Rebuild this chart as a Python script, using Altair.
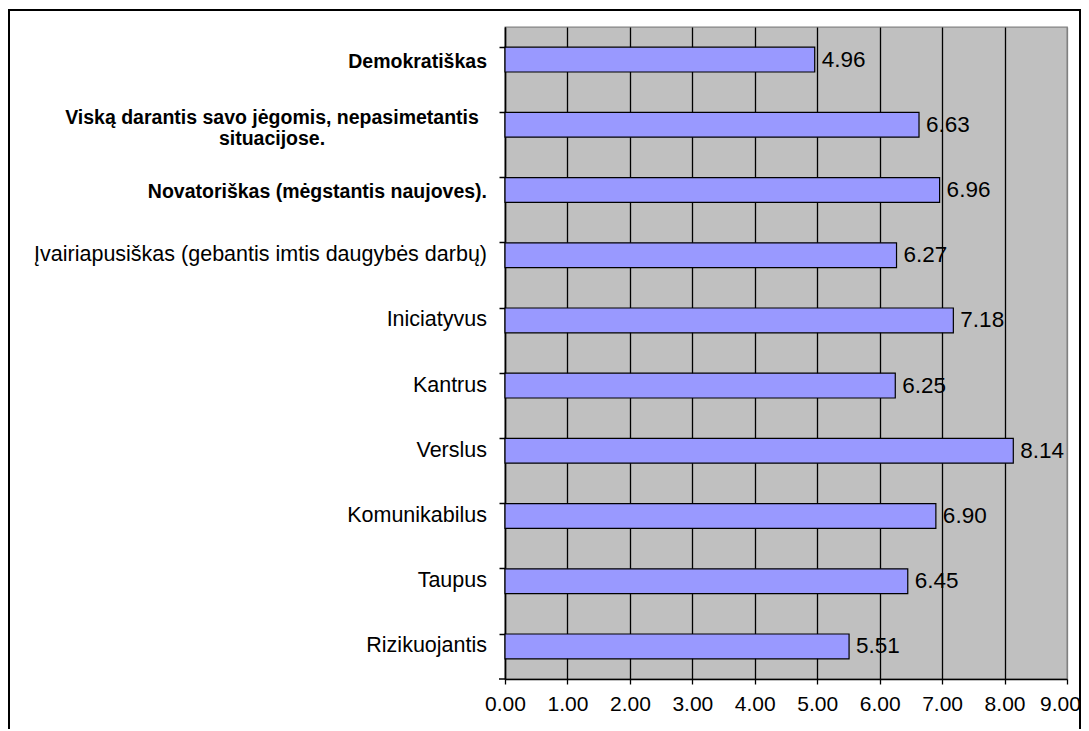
import altair as alt
import pandas as pd

categories = [
    "Demokratiškas",
    "Viską darantis savo jėgomis, nepasimetantis situacijose.",
    "Novatoriškas (mėgstantis naujoves).",
    "Įvairiapusiškas (gebantis imtis daugybės darbų)",
    "Iniciatyvus",
    "Kantrus",
    "Verslus",
    "Komunikabilus",
    "Taupus",
    "Rizikuojantis",
]
display_labels = [
    "Demokratiškas",
    "Viską darantis savo jėgomis, nepasimetantis\nsituacijose.",
    "Novatoriškas (mėgstantis naujoves).",
    "Įvairiapusiškas (gebantis imtis daugybės darbų)",
    "Iniciatyvus",
    "Kantrus",
    "Verslus",
    "Komunikabilus",
    "Taupus",
    "Rizikuojantis",
]
values = [4.96, 6.63, 6.96, 6.27, 7.18, 6.25, 8.14, 6.90, 6.45, 5.51]
styles = ["bold", "wrap", "bold", "normal", "normal", "normal", "normal", "normal", "normal", "normal"]
x_ticks = [0, 1, 2, 3, 4, 5, 6, 7, 8, 9]

df = pd.DataFrame({"cat": categories, "display": display_labels, "value": values, "style": styles})

FONT = "Liberation Sans"
W, H = 562, 652

y_enc = alt.Y(
    "cat:N", sort=categories, title=None,
    scale=alt.Scale(paddingInner=0.62, paddingOuter=0.31),
    axis=alt.Axis(labels=False, bandPosition=0, tickSize=6, tickColor="black", tickWidth=1.5,
                  domainColor="black", domainWidth=1.5, grid=False),
)
x_enc = alt.X(
    "value:Q", title=None,
    scale=alt.Scale(domain=[0, 9], nice=False),
    axis=alt.Axis(values=x_ticks, format=".2f", grid=True,
                  gridColor={"condition": {"test": "datum.value === 9", "value": "#808080"}, "value": "black"},
                  labelOffset={"condition": {"test": "datum.value === 9", "value": -7}, "value": 0},
                  gridWidth=1.3, tickSize=5, tickColor="black", tickWidth=1.3,
                  domainColor="black", domainWidth=1.5,
                  labelFlush=False, labelOverlap=False,
                  labelFont=FONT, labelFontSize=21, labelColor="black", labelPadding=9),
)

base = alt.Chart(df)
y_plain = alt.Y("cat:N", sort=categories)

bars = base.mark_bar(fill="#9999FF", stroke="black", strokeWidth=1.2).encode(x=x_enc, y=y_enc)

vals = base.mark_text(align="left", baseline="middle", dx=7, font=FONT, fontSize=22.5, color="black").encode(
    x="value:Q", y=y_plain, text=alt.Text("value:Q", format=".2f")
)

lab_normal = base.transform_filter("datum.style == 'normal'").mark_text(
    align="right", baseline="middle", font=FONT, fontSize=21.5, color="black"
).encode(x=alt.value(-18), y=y_plain, text="display:N")

lab_bold = base.transform_filter("datum.style == 'bold'").mark_text(
    align="right", baseline="middle", font=FONT, fontSize=19.5, fontWeight="bold", color="black", dy=2
).encode(x=alt.value(-18), y=y_plain, text="display:N")

lab_wrap = base.transform_filter("datum.style == 'wrap'").mark_text(
    align="center", baseline="middle", font=FONT, fontSize=19.5, fontWeight="bold", color="black",
    lineBreak="\n", lineHeight=21, dy=-7
).encode(x=alt.value(-233), y=y_plain, text="display:N")

deco = alt.Chart(pd.DataFrame({"b": [0]}))
border = deco.mark_rect(filled=False, stroke="black", strokeWidth=2).encode(
    x=alt.value(-496), x2=alt.value(575), y=alt.value(-17), y2=alt.value(H + 80)
)
bottom_tick = deco.mark_rule(color="black", strokeWidth=1.5).encode(
    x=alt.value(-6), x2=alt.value(0), y=alt.value(H)
)

chart = alt.layer(border, bars, vals, lab_normal, lab_bold, lab_wrap, bottom_tick).properties(
    width=W, height=H,
    autosize=alt.AutoSizeParams(type="none"),
    padding={"left": 497, "top": 19, "right": 14, "bottom": 50},
    background="white",
).configure_view(fill="#C0C0C0", stroke="#808080", strokeWidth=1.3)

chart.save("out.html", embed_options={"renderer": "svg", "actions": False})
